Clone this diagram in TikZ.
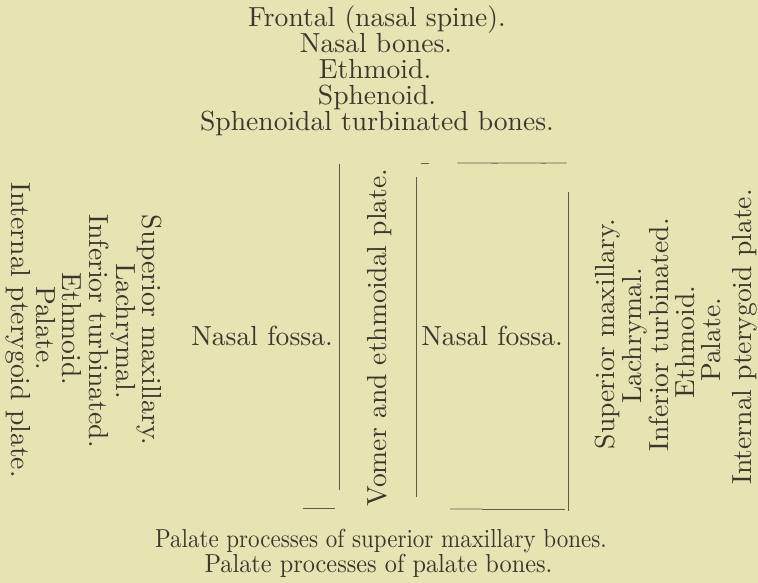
\documentclass[tikz,border=0pt]{standalone}
\definecolor{paper}{RGB}{232,227,178}
\definecolor{ink}{RGB}{58,56,44}
\definecolor{rulec}{RGB}{95,92,74}
\begin{document}
\begin{tikzpicture}[x=1pt,y=-1pt,
  lbl/.style={text=ink, scale=2.76, inner sep=0pt, font=\normalsize, anchor=base},
  lcol/.style={lbl, rotate=-90},
  rcol/.style={lbl, rotate=90},
  bot/.style={text=ink, inner sep=0pt, font=\normalsize, anchor=base, yscale=2.6},
  rl/.style={draw=rulec, line width=0.9pt},
  faint/.style={draw=rulec!35!paper, line width=1.2pt}]
\fill[paper] (0,0) rectangle (758,583);
\useasboundingbox (0,0) rectangle (758,583);

% top
\node[lbl] (t1) at (377,27) {Frontal (nasal spine).};
\node[lbl] (t2) at (376,53) {Nasal bones.};
\node[lbl] (t3) at (375,79) {Ethmoid.};
\node[lbl] (t4) at (377,105) {Sphenoid.};
\node[lbl] (t5) at (377,131) {Sphenoidal turbinated bones.};

% left column
\node[lcol] (l1) at (142,330) {Superior maxillary.};
\node[lcol] (l2) at (116,331) {Lachrymal.};
\node[lcol] (l3) at (89,331) {Inferior turbinated.};
\node[lcol] (l4) at (62,329) {Ethmoid.};
\node[lcol] (l5) at (36,328) {Palate.};
\node[lcol] (l6) at (11,330) {Internal pterygoid plate.};

% right column
\node[rcol] (r1) at (614,334) {Superior maxillary.};
\node[rcol] (r2) at (641,336) {Lachrymal.};
\node[rcol] (r3) at (668,335) {Inferior turbinated.};
\node[rcol] (r4) at (694,342) {Ethmoid.};
\node[rcol] (r5) at (720,340) {Palate.};
\node[rcol] (r6) at (751,337) {Internal pterygoid plate.};

% middle
\node[lbl] (nf1) at (262,345) {Nasal fossa.};
\node[lbl] (nf2) at (492,345) {Nasal fossa.};
\node[rcol] (vom) at (386,337.5) {Vomer and ethmoidal plate.};

% rules
\coordinate (a1) at (339,164); \coordinate (a2) at (339,490);
\coordinate (b1) at (303,508); \coordinate (b2) at (335,508);
\coordinate (c1) at (416.5,177); \coordinate (c2) at (416.5,497);
\coordinate (d1) at (568.5,192); \coordinate (d2) at (568.5,511);
\coordinate (e1) at (482,509); \coordinate (e2) at (565,509);
\coordinate (e0) at (450,509);
\draw[rl] (a1) -- (a2);
\draw[rl] (b1) -- (b2);
\draw[rl] (c1) -- (c2);
\draw[rl] (d1) -- (d2);
\draw[faint] (e0) -- (e1);
\draw[rl] (e1) -- (e2);
\coordinate (f1) at (421,163); \coordinate (f2) at (429,163);
\coordinate (g1) at (457,163); \coordinate (g2) at (567,163);
\draw[faint] (g1) -- (g2);
\draw[rl] (f1) -- (f2);
\draw[rl, draw=rulec!70!paper] (491,163) -- (498,163);
\draw[rl, draw=rulec!70!paper] (541,163) -- (546,163);

% bottom
\node[bot, xscale=2.30] (p1) at (381,547) {Palate processes of superior maxillary bones.};
\node[bot, xscale=2.43] (p2) at (378.5,572) {Palate processes of palate bones.};
\end{tikzpicture}
\end{document}
